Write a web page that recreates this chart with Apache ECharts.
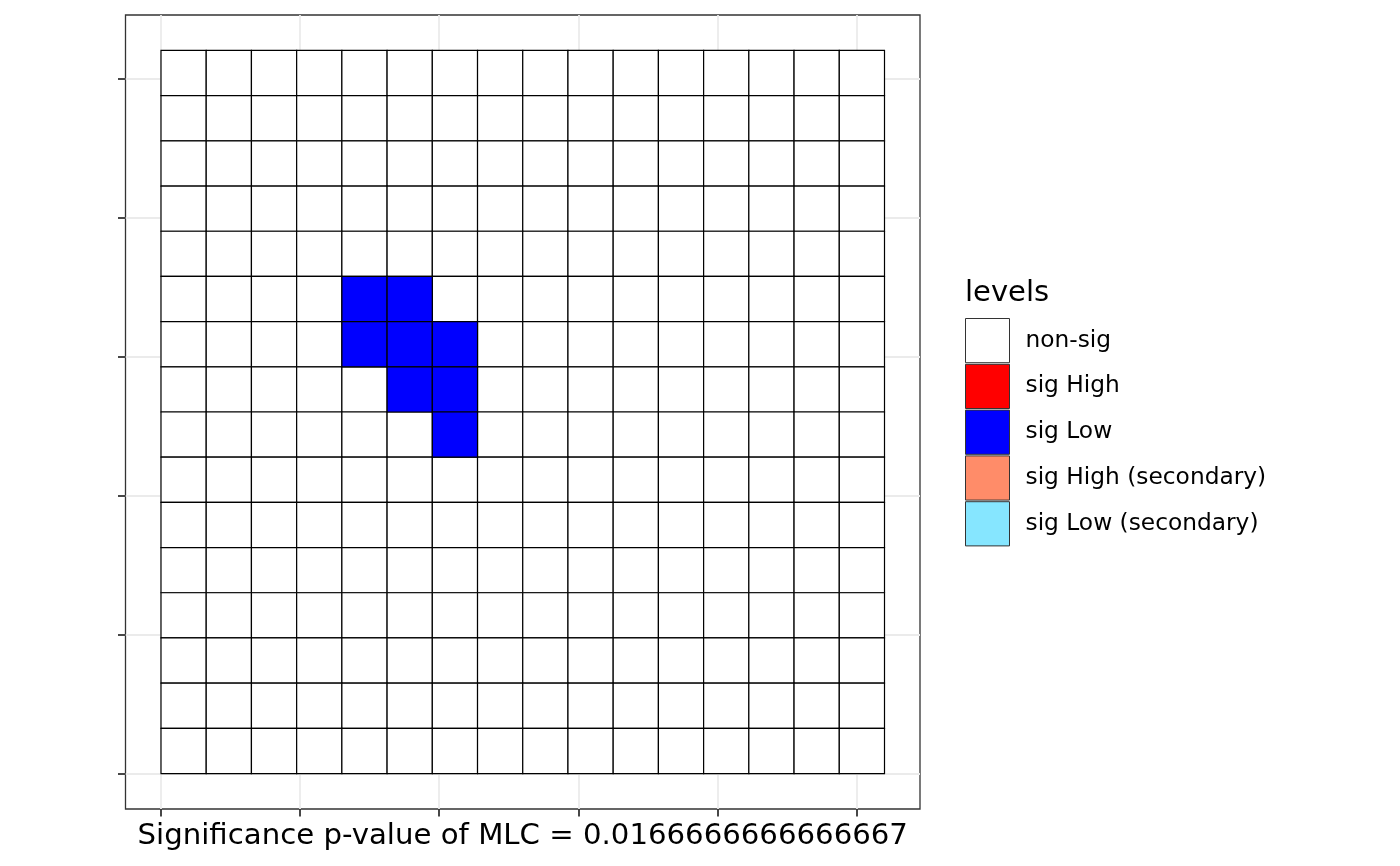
<!DOCTYPE html>
<html>
<head>
<meta charset="utf-8">
<script src="https://cdn.jsdelivr.net/npm/echarts@6/dist/echarts.min.js"></script>
<style>
html,body{margin:0;padding:0;background:#fff;}
#chart{width:1400px;height:866px;}
</style>
</head>
<body>
<div id="chart"></div>
<script>
// ---- data ----
const levelNames = ['non-sig', 'sig High', 'sig Low', 'sig High (secondary)', 'sig Low (secondary)'];
const levelColors = ['#FFFFFF', '#FF0000', '#0000FF', '#FF8C69', '#86E6FF'];
// grid of level codes, rows listed from top to bottom, 16 columns each
const cellLevels = [
  [0,0,0,0,0,0,0,0,0,0,0,0,0,0,0,0],
  [0,0,0,0,0,0,0,0,0,0,0,0,0,0,0,0],
  [0,0,0,0,0,0,0,0,0,0,0,0,0,0,0,0],
  [0,0,0,0,0,0,0,0,0,0,0,0,0,0,0,0],
  [0,0,0,0,0,0,0,0,0,0,0,0,0,0,0,0],
  [0,0,0,0,2,2,0,0,0,0,0,0,0,0,0,0],
  [0,0,0,0,2,2,2,0,0,0,0,0,0,0,0,0],
  [0,0,0,0,0,2,2,0,0,0,0,0,0,0,0,0],
  [0,0,0,0,0,0,2,0,0,0,0,0,0,0,0,0],
  [0,0,0,0,0,0,0,0,0,0,0,0,0,0,0,0],
  [0,0,0,0,0,0,0,0,0,0,0,0,0,0,0,0],
  [0,0,0,0,0,0,0,0,0,0,0,0,0,0,0,0],
  [0,0,0,0,0,0,0,0,0,0,0,0,0,0,0,0],
  [0,0,0,0,0,0,0,0,0,0,0,0,0,0,0,0],
  [0,0,0,0,0,0,0,0,0,0,0,0,0,0,0,0],
  [0,0,0,0,0,0,0,0,0,0,0,0,0,0,0,0]
];
// axis ticks (in cell units), labels are blank in the reference
const xTicks = [0, 3.076, 6.152, 9.228, 12.304, 15.38];
const yTicks = [0, 3.076, 6.152, 9.228, 12.304, 15.38];
const xTickLabels = ['', '', '', '', '', ''];
const yTickLabels = ['', '', '', '', '', ''];
const xTitle = 'Significance p-value of MLC = 0.0166666666666667';
const legendTitle = 'levels';

// ---- build ----
const nRows = cellLevels.length, nCols = cellLevels[0].length;
const FONT = 'DejaVu Sans';

const series = levelNames.map((name, li) => {
  const data = [];
  cellLevels.forEach((row, r) => {
    row.forEach((lv, c) => {
      if (lv === li) data.push([c, nRows - 1 - r]);
    });
  });
  return {
    type: 'custom',
    name: name,
    coordinateSystem: 'cartesian2d',
    itemStyle: { color: levelColors[li], borderColor: '#000', borderWidth: 1 },
    encode: { x: 0, y: 1 },
    data: data,
    z: li === 0 ? 2 : 3,
    silent: true,
    renderItem: function (params, api) {
      const x = api.value(0), y = api.value(1);
      const p0 = api.coord([x, y + 1]);
      const p1 = api.coord([x + 1, y]);
      return {
        type: 'rect',
        shape: { x: p0[0], y: p0[1], width: p1[0] - p0[0], height: p1[1] - p0[1] },
        style: { fill: levelColors[li], stroke: '#000', lineWidth: 1.2 }
      };
    }
  };
});

const expand = 0.785;
const chart = echarts.init(document.getElementById('chart'), null, { renderer: 'canvas' });
chart.setOption({
  animation: false,
  backgroundColor: '#fff',
  title: {
    text: legendTitle,
    left: 960, top: 274,
    textStyle: { fontFamily: FONT, fontSize: 29, fontWeight: 'normal', color: '#000' }
  },
  legend: {
    orient: 'vertical',
    left: 965, top: 318,
    padding: 0,
    itemWidth: 44, itemHeight: 44.2, itemGap: 0.6,
    icon: 'rect',
    selectedMode: false,
    data: levelNames.map((n, i) => ({
      name: n,
      itemStyle: { color: levelColors[i], borderColor: '#333', borderWidth: 1 }
    })),
    textStyle: { fontFamily: FONT, fontSize: 23.3, color: '#000', padding: [4, 0, 0, 11] }
  },
  grid: {
    left: 125.5, top: 15, width: 794.5, height: 794,
    show: true, borderColor: '#333', borderWidth: 1.3, backgroundColor: '#fff',
    containLabel: false
  },
  xAxis: {
    type: 'value',
    min: -expand, max: nCols + expand,
    name: xTitle,
    nameLocation: 'middle',
    nameGap: 12,
    nameTextStyle: { fontFamily: FONT, fontSize: 29.2, color: '#000' },
    axisLine: { show: false, onZero: false },
    axisTick: { show: true, length: 7.5, lineStyle: { color: '#333', width: 1.8 }, customValues: xTicks },
    axisLabel: { show: true, customValues: xTicks, formatter: (v) => xTickLabels[xTicks.indexOf(v)] || '' },
    splitLine: { show: true, lineStyle: { color: '#EBEBEB', width: 1.8 } }
  },
  yAxis: {
    type: 'value',
    min: -expand, max: nRows + expand,
    axisLine: { show: false, onZero: false },
    axisTick: { show: true, length: 7.5, lineStyle: { color: '#333', width: 1.8 }, customValues: yTicks },
    axisLabel: { show: true, customValues: yTicks, formatter: (v) => yTickLabels[yTicks.indexOf(v)] || '' },
    splitLine: { show: true, lineStyle: { color: '#EBEBEB', width: 1.8 } }
  },
  series: series
});
</script>
</body>
</html>
